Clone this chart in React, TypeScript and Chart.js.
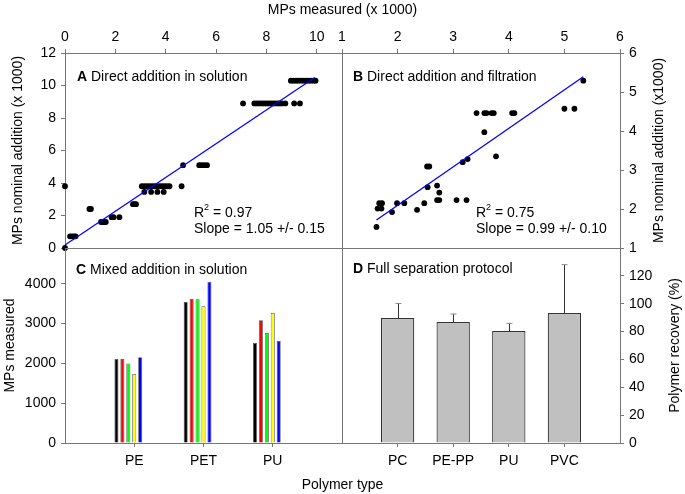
import { useEffect, useRef } from 'react';
import { Chart, registerables } from 'chart.js';

Chart.register(...registerables);

const W = 685;
const H = 494;
const FONT = '"Liberation Sans", Arial, Helvetica, sans-serif';
const LINE = '#777777';

Chart.defaults.font.family = FONT;
Chart.defaults.font.size = 14;
Chart.defaults.color = '#000';

// frame edges shared by the four panels (px)
const LEFT = 65;
const COL = 342;
const RIGHT = 620;
const TOP = 53;
const ROW = 248;
const BOTTOM = 443;

// A - direct addition in solution (x 1000): measured counts grouped by nominal level
const aNominal = [0, 0.72, 1.6, 1.9, 2.4, 2.7, 3.45, 3.8, 5.1, 8.9, 10.3];
const aMeasured = [
  [0],
  [0.2, 0.28, 0.35, 0.42],
  [1.43, 1.5, 1.57, 1.62],
  [1.85, 1.93, 2.16],
  [0.97, 1.03],
  [2.7, 2.76, 2.82],
  [3.15, 3.42, 3.67, 3.92],
  [0, 3.05, 3.15, 3.25, 3.35, 3.45, 3.55, 3.65, 3.75, 3.85, 3.95, 4.05, 4.15, 4.63],
  [4.69, 5.33, 5.43, 5.53, 5.64],
  [7.07, 7.52, 7.62, 7.72, 7.82, 7.92, 8.02, 8.12, 8.22, 8.32, 8.42, 8.52, 8.62, 8.75, 9.1, 9.33],
  [8.97, 9.07, 9.17, 9.27, 9.37, 9.47, 9.57, 9.67, 9.77, 9.87, 9.95],
];
const aFitX = [0, 9.92];
const aFitY = [0.18, 10.49];

// B - direct addition and filtration (x 1000)
const bMeasured = [
  1.62, 1.64, 1.71, 1.67, 1.72, 1.9, 1.99, 2.12, 2.35, 2.48, 2.54, 2.53, 2.57, 2.71, 2.75, 2.71, 2.75,
  3.06, 3.24, 3.17, 3.26, 3.56, 3.77, 3.42, 3.56, 3.6, 3.69, 3.73, 4.06, 4.1, 5.0, 5.18, 5.34,
];
const bNominal = [
  1.54, 2.01, 2.01, 2.15, 2.15, 1.92, 2.15, 2.15, 1.98, 2.15, 2.56, 3.09, 3.09, 2.6, 2.42, 2.23, 2.23,
  2.23, 2.23, 3.2, 3.28, 3.97, 3.35, 4.46, 4.46, 4.46, 4.46, 4.46, 4.46, 4.46, 4.57, 4.57, 5.29,
];
const bFitX = [1.62, 5.34];
const bFitY = [1.72, 5.39];

// C - mixed addition in solution, five replicates per polymer
const cPolymers = ['', 'PE', 'PET', 'PU', ''];
const cColors = ['#000000', '#ff0000', '#00ff00', '#ffff00', '#0000ff'];
const cReplicates = [
  [2110, 3540, 2515],
  [2110, 3620, 3085],
  [2000, 3610, 2765],
  [1735, 3435, 3270],
  [2155, 4050, 2565],
];
const cEmptySlots = 2;
const cTicks = [0, 1000, 2000, 3000, 4000];

// D - full separation protocol, recovery (%)
const dPolymers = ['', 'PC', 'PE-PP', 'PU', 'PVC', ''];
const dRecovery = [null, 89.7, 86.9, 80.4, 93.3, null];
const dError = [null, 10.5, 5.7, 5.5, 34.7, null];
const dTicks = [0, 20, 40, 60, 80, 100, 120];

type Part = { s: string; bold?: boolean; sup?: boolean };
type Note = { x: number; y: number; parts: Part[]; center?: boolean; vertical?: boolean };

function notes(list: Note[]) {
  return {
    id: 'notes',
    afterDraw(chart: Chart) {
      const ctx = chart.ctx;
      ctx.save();
      ctx.fillStyle = '#000';
      ctx.textBaseline = 'middle';
      ctx.textAlign = 'left';
      for (const n of list) {
        const fonts = n.parts.map((p) => `${p.bold ? 'bold ' : ''}${p.sup ? 9 : 14}px ${FONT}`);
        const widths = n.parts.map((p, i) => {
          ctx.font = fonts[i];
          return ctx.measureText(p.s).width;
        });
        const total = widths.reduce((a, b) => a + b, 0);
        ctx.save();
        ctx.translate(n.x, n.y);
        if (n.vertical) ctx.rotate(-Math.PI / 2);
        let x = n.center ? -total / 2 : 0;
        n.parts.forEach((p, i) => {
          ctx.font = fonts[i];
          ctx.fillText(p.s, x, p.sup ? -5 : 0);
          x += widths[i];
        });
        ctx.restore();
      }
      ctx.restore();
    },
  };
}

const frame = {
  id: 'frame',
  beforeDatasetsDraw(chart: Chart) {
    const { left, top, right, bottom } = chart.chartArea;
    const ctx = chart.ctx;
    ctx.save();
    ctx.strokeStyle = LINE;
    ctx.lineWidth = 1;
    const l = Math.round(left) + 0.5;
    const t = Math.round(top) + 0.5;
    ctx.strokeRect(l, t, Math.round(right) - Math.round(left), Math.round(bottom) - Math.round(top));
    ctx.restore();
  },
};

function errorBars(errors: (number | null)[]) {
  return {
    id: 'errorBars',
    afterDatasetsDraw(chart: Chart) {
      const ctx = chart.ctx;
      const meta = chart.getDatasetMeta(0);
      const y = chart.scales.y;
      const vals = chart.data.datasets[0].data as (number | null)[];
      ctx.save();
      ctx.lineWidth = 1;
      meta.data.forEach((bar: any, i: number) => {
        const e = errors[i];
        const v = vals[i];
        if (e == null || v == null) return;
        const x = Math.round(bar.x) + 0.5;
        const yTop = y.getPixelForValue(v + e);
        ctx.strokeStyle = '#333';
        ctx.beginPath();
        ctx.moveTo(x, bar.y);
        ctx.lineTo(x, yTop);
        ctx.stroke();
        ctx.strokeStyle = '#888';
        ctx.beginPath();
        ctx.moveTo(x - 3, yTop);
        ctx.lineTo(x + 3, yTop);
        ctx.stroke();
      });
      ctx.restore();
    },
  };
}

const tickMarks = { drawOnChartArea: false, drawTicks: true, tickLength: 4, color: LINE, tickColor: LINE, lineWidth: 1 };
const noBorder = { display: false };

const base = {
  animation: false as const,
  responsive: false,
  events: [] as any[],
  plugins: { legend: { display: false }, tooltip: { enabled: false } },
};

function pairs(xs: number[], ys: number[]) {
  return xs.map((x, i) => ({ x, y: ys[i] }));
}

function fixedTicks(values: number[]) {
  return (s: any) => {
    s.ticks = values.map((value) => ({ value }));
  };
}

function scatterSets(points: { x: number; y: number }[], fit: { x: number; y: number }[]) {
  return [
    { data: fit, showLine: true, borderColor: '#0000ff', borderWidth: 1.3, pointRadius: 0, clip: false },
    { data: points, pointRadius: 2.9, pointBackgroundColor: '#000', pointBorderColor: '#000', pointBorderWidth: 0, clip: false },
  ];
}

function panelA(): any {
  const points = aNominal.flatMap((y, i) => aMeasured[i].map((x) => ({ x, y })));
  return {
    type: 'scatter',
    data: { datasets: scatterSets(points, pairs(aFitX, aFitY)) },
    options: {
      ...base,
      layout: { padding: { left: 0, top: 0, right: W - COL, bottom: H - ROW } },
      scales: {
        x: {
          type: 'linear', position: 'top', min: 0, max: 11,
          ticks: { stepSize: 2, includeBounds: false, padding: 3 },
          grid: tickMarks, border: noBorder,
          afterFit: (s: any) => { s.height = TOP; },
        },
        y: {
          type: 'linear', position: 'left', min: 0, max: 12,
          ticks: { stepSize: 2, padding: 5 },
          grid: tickMarks, border: noBorder,
          title: { display: true, text: 'MPs nominal addition (x 1000)', padding: { top: 9.6, bottom: 0 } },
          afterFit: (s: any) => { s.width = LEFT; },
        },
      },
    },
    plugins: [
      frame,
      notes([
        { x: W / 2, y: 10, center: true, parts: [{ s: 'MPs measured (x 1000)' }] },
        { x: LEFT + 12, y: TOP + 24, parts: [{ s: 'A', bold: true }, { s: ' Direct addition in solution' }] },
        { x: LEFT + 129, y: TOP + 160, parts: [{ s: 'R' }, { s: '2', sup: true }, { s: ' = 0.97' }] },
        { x: LEFT + 129, y: TOP + 176, parts: [{ s: 'Slope = 1.05 +/- 0.15' }] },
      ]),
    ],
  };
}

function panelB(): any {
  return {
    type: 'scatter',
    data: { datasets: scatterSets(pairs(bMeasured, bNominal), pairs(bFitX, bFitY)) },
    options: {
      ...base,
      layout: { padding: { left: COL, top: 0, right: 0, bottom: H - ROW } },
      scales: {
        x: {
          type: 'linear', position: 'top', min: 1, max: 6,
          ticks: { stepSize: 1, padding: 3 },
          grid: tickMarks, border: noBorder,
          afterFit: (s: any) => { s.height = TOP; },
        },
        y: {
          type: 'linear', position: 'right', min: 1, max: 6,
          ticks: { stepSize: 1, padding: 5 },
          grid: tickMarks, border: noBorder,
          afterFit: (s: any) => { s.width = W - RIGHT; },
        },
      },
    },
    plugins: [
      frame,
      notes([
        { x: COL + 11, y: TOP + 24, parts: [{ s: 'B', bold: true }, { s: ' Direct addition and filtration' }] },
        { x: COL + 134, y: TOP + 160, parts: [{ s: 'R' }, { s: '2', sup: true }, { s: ' = 0.75' }] },
        { x: COL + 134, y: TOP + 176, parts: [{ s: 'Slope = 0.99 +/- 0.10' }] },
        { x: 659, y: (TOP + ROW) / 2, center: true, vertical: true, parts: [{ s: 'MPs nominal addition (x1000)' }] },
      ]),
    ],
  };
}

function hideEnds(labels: string[]) {
  return (c: any) => (c.index === 0 || c.index === labels.length - 1 ? 'rgba(0,0,0,0)' : LINE);
}

function panelC(): any {
  const pad = (vals: number[]) => [null, ...vals, null];
  const sets: any[] = cReplicates.map((vals, i) => ({
    data: pad(vals),
    backgroundColor: cColors[i],
    borderColor: '#555',
    borderWidth: 0.8,
  }));
  for (let k = 0; k < cEmptySlots; k++) sets.push({ data: cPolymers.map(() => null) });
  return {
    type: 'bar',
    data: { labels: cPolymers, datasets: sets },
    options: {
      ...base,
      layout: { padding: { left: 0, top: ROW, right: W - COL, bottom: H - BOTTOM - 30 } },
      datasets: { bar: { categoryPercentage: 0.6, barPercentage: 0.68 } },
      scales: {
        x: {
          offset: false,
          ticks: { padding: 6, maxRotation: 0, autoSkip: false },
          grid: { ...tickMarks, offset: false, tickColor: hideEnds(cPolymers) },
          border: noBorder,
          afterFit: (s: any) => { s.height = 30; },
        },
        y: {
          min: 0, max: 4900,
          ticks: { padding: 5, callback: (v: any) => String(v) },
          afterBuildTicks: fixedTicks(cTicks),
          grid: tickMarks, border: noBorder,
          title: { display: true, text: 'MPs measured', padding: { top: 1.6, bottom: 0 } },
          afterFit: (s: any) => { s.width = LEFT; },
        },
      },
    },
    plugins: [
      frame,
      notes([
        { x: LEFT + 11, y: ROW + 22, parts: [{ s: 'C', bold: true }, { s: ' Mixed addition in solution' }] },
        { x: W / 2, y: 485, center: true, parts: [{ s: 'Polymer type' }] },
      ]),
    ],
  };
}

function panelD(): any {
  return {
    type: 'bar',
    data: {
      labels: dPolymers,
      datasets: [{ data: dRecovery, backgroundColor: '#c0c0c0', borderColor: '#333', borderWidth: 1.2 }],
    },
    options: {
      ...base,
      layout: { padding: { left: COL, top: ROW, right: 0, bottom: H - BOTTOM - 30 } },
      datasets: { bar: { categoryPercentage: 0.6, barPercentage: 1 } },
      scales: {
        x: {
          offset: false,
          ticks: { padding: 6, maxRotation: 0, autoSkip: false },
          grid: { ...tickMarks, offset: false, tickColor: hideEnds(dPolymers) },
          border: noBorder,
          afterFit: (s: any) => { s.height = 30; },
        },
        y: {
          position: 'right', min: 0, max: 140,
          ticks: { padding: 5, callback: (v: any) => String(v) },
          afterBuildTicks: fixedTicks(dTicks),
          grid: tickMarks, border: noBorder,
          afterFit: (s: any) => { s.width = W - RIGHT; },
        },
      },
    },
    plugins: [
      frame,
      errorBars(dError),
      notes([
        { x: COL + 11, y: ROW + 21, parts: [{ s: 'D', bold: true }, { s: ' Full separation protocol' }] },
        { x: 675, y: (ROW + BOTTOM) / 2, center: true, vertical: true, parts: [{ s: 'Polymer recovery (%)' }] },
      ]),
    ],
  };
}

function Panel({ build }: { build: () => any }) {
  const ref = useRef<HTMLCanvasElement>(null);

  useEffect(() => {
    if (!ref.current) return;
    const chart = new Chart(ref.current, build());
    return () => chart.destroy();
  }, [build]);

  return <canvas ref={ref} width={W} height={H} style={{ position: 'absolute', left: 0, top: 0 }} />;
}

export default function App() {
  return (
    <div style={{ position: 'fixed', left: 0, top: 0, width: W, height: H, background: '#fff', overflow: 'hidden' }}>
      <Panel build={panelA} />
      <Panel build={panelB} />
      <Panel build={panelC} />
      <Panel build={panelD} />
    </div>
  );
}
